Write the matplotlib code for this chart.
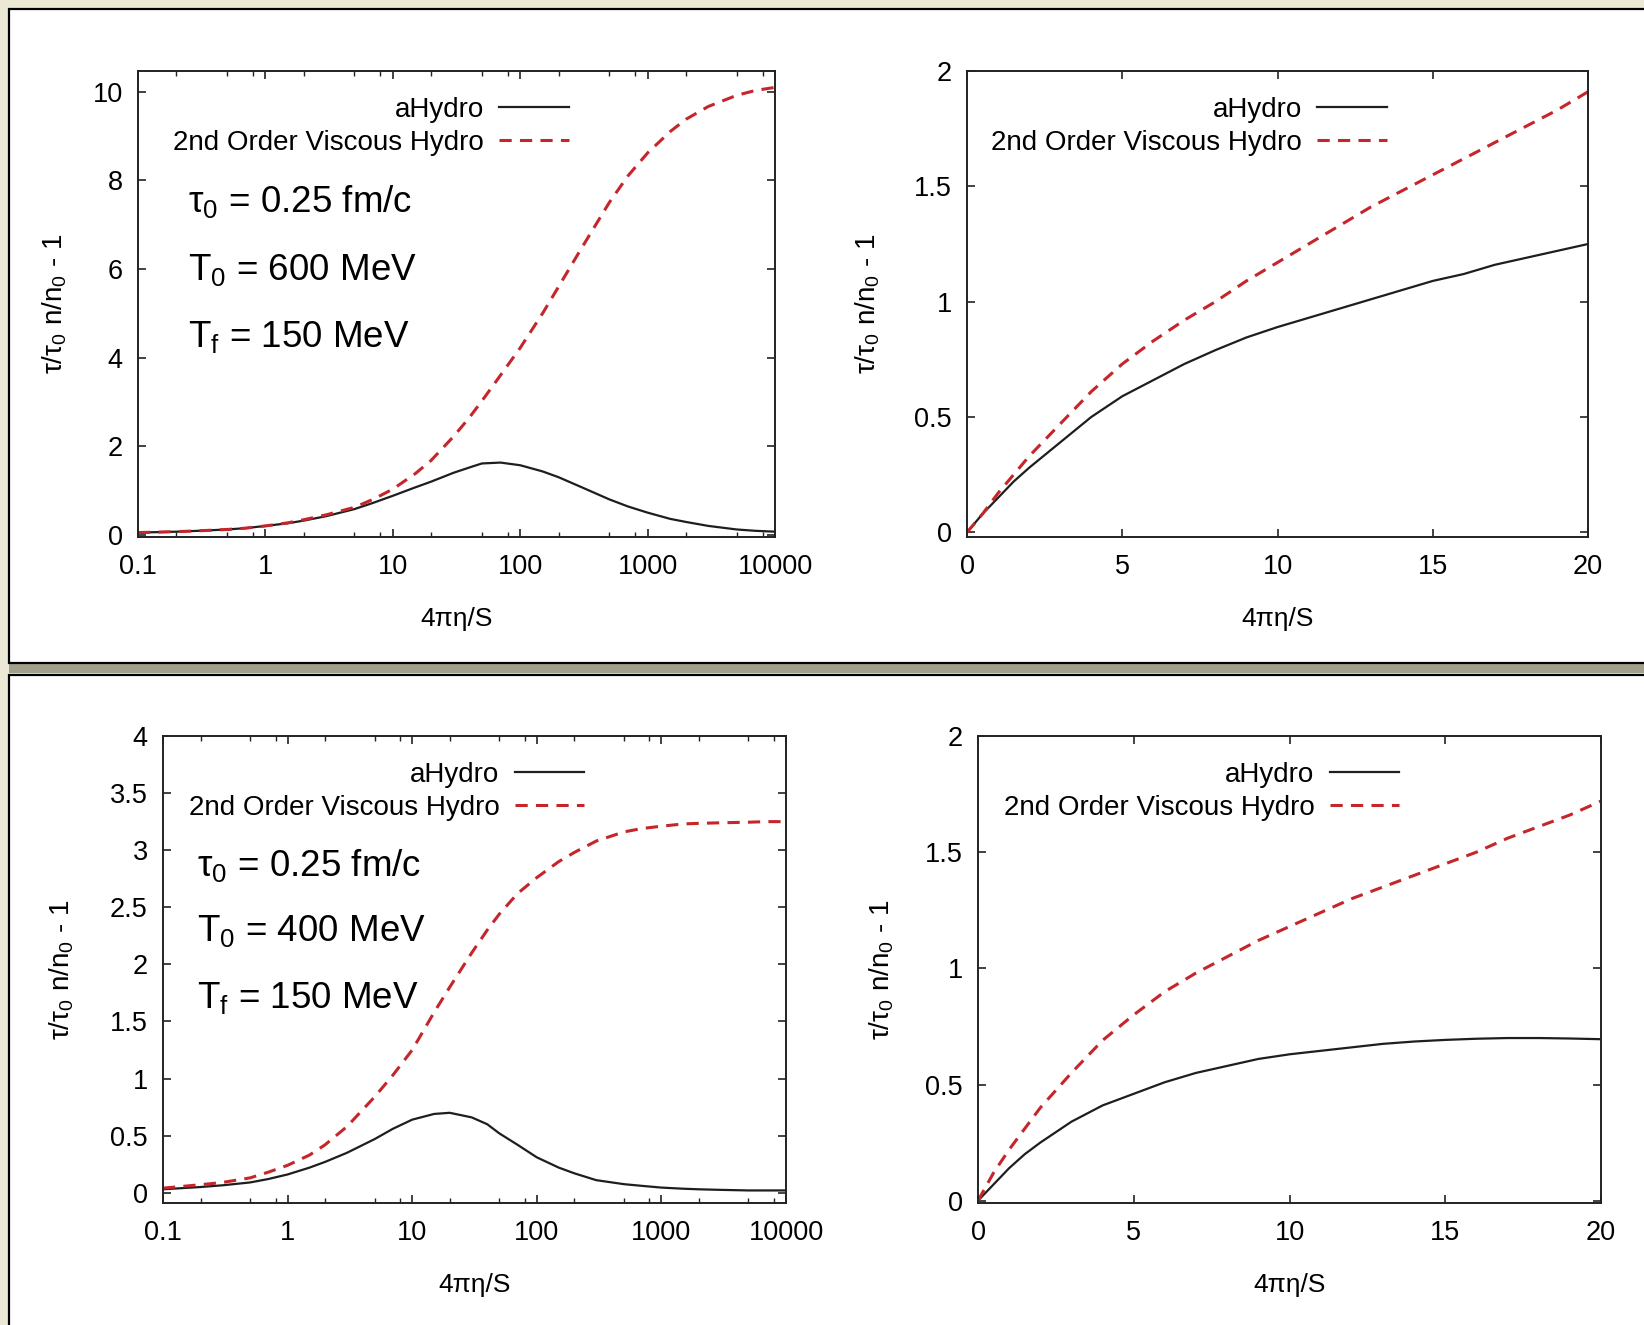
"""
Four-panel comparison of aHydro and 2nd order viscous hydro:
tau/tau0 n/n0 - 1 against 4 pi eta / S, for T0 = 600 MeV (top)
and T0 = 400 MeV (bottom), log and linear x axes.
"""

import matplotlib
matplotlib.use("Agg")
import matplotlib.pyplot as plt
from matplotlib.patches import Rectangle
from matplotlib.ticker import FixedLocator, FormatStrFormatter


# ============================================================
# DATA
# ============================================================

# log panels, x = 4 pi eta / S
X_LOG = [0.1, 0.2, 0.3, 0.5, 0.7, 1, 1.5, 2, 3, 5, 7, 10, 15, 20, 30, 40, 50, 70, 100,
         150, 200, 300, 500, 700, 1000, 1500, 2000, 3000, 5000, 7000, 10000]

TL_AHYDRO = [0.05, 0.07, 0.09, 0.12, 0.15, 0.2, 0.26, 0.32, 0.42, 0.58, 0.72, 0.88, 1.07,
             1.2, 1.4, 1.52, 1.61, 1.63, 1.57, 1.43, 1.3, 1.08, 0.8, 0.64, 0.5, 0.36,
             0.29, 0.2, 0.12, 0.09, 0.07]
TL_VISC = [0.05, 0.07, 0.09, 0.12, 0.15, 0.2, 0.27, 0.34, 0.45, 0.62, 0.8, 1.03, 1.38,
           1.68, 2.22, 2.65, 3.02, 3.6, 4.22, 5.0, 5.6, 6.45, 7.5, 8.1, 8.62, 9.1,
           9.38, 9.67, 9.92, 10.03, 10.1]

BL_AHYDRO = [0.03, 0.05, 0.065, 0.09, 0.12, 0.16, 0.22, 0.27, 0.35, 0.47, 0.56, 0.64, 0.69,
             0.7, 0.66, 0.6, 0.52, 0.42, 0.31, 0.22, 0.17, 0.11, 0.075, 0.06, 0.045,
             0.035, 0.03, 0.025, 0.02, 0.02, 0.02]
BL_VISC = [0.04, 0.07, 0.09, 0.13, 0.18, 0.24, 0.33, 0.42, 0.58, 0.84, 1.03, 1.25, 1.58,
           1.8, 2.1, 2.3, 2.44, 2.62, 2.76, 2.9, 2.98, 3.08, 3.16, 3.19, 3.21, 3.23,
           3.235, 3.24, 3.245, 3.25, 3.25]

# linear panels
X_LIN = [0, 0.25, 0.5, 1, 1.5, 2, 3, 4, 5, 6, 7, 8, 9, 10, 11, 12, 13, 14, 15, 16,
         17, 18, 19, 20]

TR_AHYDRO = [0, 0.04, 0.08, 0.15, 0.22, 0.28, 0.39, 0.5, 0.59, 0.66, 0.73, 0.79, 0.845,
             0.89, 0.93, 0.97, 1.01, 1.05, 1.09, 1.12, 1.16, 1.19, 1.22, 1.25]
TR_VISC = [0, 0.04, 0.08, 0.17, 0.25, 0.33, 0.47, 0.61, 0.73, 0.83, 0.92, 1.0, 1.09,
           1.17, 1.25, 1.33, 1.41, 1.48, 1.55, 1.62, 1.69, 1.76, 1.83, 1.91]

BR_AHYDRO = [0, 0.035, 0.07, 0.14, 0.2, 0.25, 0.34, 0.41, 0.46, 0.51, 0.55, 0.58, 0.61,
             0.63, 0.645, 0.66, 0.675, 0.685, 0.692, 0.697, 0.7, 0.7, 0.698, 0.695]
BR_VISC = [0, 0.06, 0.12, 0.22, 0.31, 0.4, 0.55, 0.69, 0.8, 0.9, 0.98, 1.05, 1.12,
           1.18, 1.24, 1.3, 1.35, 1.4, 1.45, 1.5, 1.56, 1.61, 1.66, 1.72]

LOG_TICKS = [0.1, 1, 10, 100, 1000, 10000]
LIN_XTICKS = [0, 5, 10, 15, 20]

TOP_PARAMS = ["τ$_0$ = 0.25 fm/c", "T$_0$ = 600 MeV", "T$_\\mathrm{f}$ = 150 MeV"]
BOT_PARAMS = ["τ$_0$ = 0.25 fm/c", "T$_0$ = 400 MeV", "T$_\\mathrm{f}$ = 150 MeV"]

LABELS = ["aHydro", "2nd Order Viscous Hydro"]
XLABEL = "4πη/S"
YLABEL = "τ/τ$_0$ n/n$_0$ - 1"


# ============================================================
# STYLE
# ============================================================

W, H = 1644, 1325
BG = "#ece8d6"
RED = "#c4262b"
BLACK = "#1e1e1e"

plt.rcParams["font.family"] = ["Liberation Sans", "DejaVu Sans"]
plt.rcParams["mathtext.fontset"] = "custom"
plt.rcParams["mathtext.rm"] = "Liberation Sans"
plt.rcParams["mathtext.it"] = "Liberation Sans:italic"


def px_axes(fig, left, top, right, bottom):
    return fig.add_axes([left / W, 1 - bottom / H, (right - left) / W, (bottom - top) / H])


def style_axes(ax, logx):
    for s in ax.spines.values():
        s.set_linewidth(1.4)
        s.set_color("#222222")
    ax.tick_params(which="both", direction="in", top=True, right=True,
                   labelsize=19.5, pad=11, colors="#222222", labelcolor="black")
    ax.tick_params(which="major", length=6, width=1.2)
    ax.tick_params(which="minor", length=3.5, width=1.0)
    ax.tick_params(axis="x", pad=12)
    if logx:
        ax.set_xscale("log")
        ax.set_xlim(0.1, 10000)
        ax.xaxis.set_major_locator(FixedLocator(LOG_TICKS))
        minors = [m * 10.0 ** e for e in range(-1, 4) for m in (2, 5, 8)]
        ax.xaxis.set_minor_locator(FixedLocator(minors))
    else:
        ax.set_xlim(0, 20)
        ax.xaxis.set_major_locator(FixedLocator(LIN_XTICKS))
        ax.xaxis.set_minor_locator(FixedLocator([]))
    ax.xaxis.set_major_formatter(FormatStrFormatter("%g"))
    ax.yaxis.set_major_formatter(FormatStrFormatter("%g"))


def draw_panel(ax, x, y_a, y_v, logx, ylim, yticks, ylab_off):
    style_axes(ax, logx)
    ax.plot(x, y_a, color=BLACK, linewidth=1.6, label=LABELS[0])
    ax.plot(x, y_v, color=RED, linewidth=2.2, dashes=(4, 2.7), label=LABELS[1])
    ax.set_ylim(*ylim)
    ax.set_yticks(yticks)

    ax.legend(loc="upper right", bbox_to_anchor=(0.676, 0.945), frameon=False,
              markerfirst=False, fontsize=20, handlelength=2.5, handletextpad=0.55,
              labelspacing=0.27, borderpad=0, borderaxespad=0)

    ax.set_xlabel(XLABEL, fontsize=19)
    ax.set_ylabel(YLABEL, fontsize=20)
    ax.xaxis.set_label_coords(0.5, -0.15)
    ax.yaxis.set_label_coords(ylab_off, 0.5)


def add_params(ax, lines, x0, ys):
    for txt, yy in zip(lines, ys):
        ax.text(x0, yy, txt, transform=ax.transAxes, fontsize=26.5,
                ha="left", va="center")


# ============================================================
# FIGURE
# ============================================================

def main():
    fig = plt.figure(figsize=(W / 100, H / 100), dpi=100)
    fig.patch.set_facecolor(BG)

    # two white "slides" with a shadow between them (behind the axes)
    fig.patches.append(Rectangle((9 / W, 1 - 673 / H), 1.1, 10 / H,
                                 transform=fig.transFigure, facecolor="#a19e8c",
                                 edgecolor="none", zorder=-3))
    fig.patches.append(Rectangle((9 / W, 1 - 663 / H), 1.1, (663 - 9) / H,
                                 transform=fig.transFigure, facecolor="white",
                                 edgecolor="black", linewidth=1.6, zorder=-2))
    fig.patches.append(Rectangle((9 / W, -0.05), 1.1, (H - 675) / H + 0.05,
                                 transform=fig.transFigure, facecolor="white",
                                 edgecolor="black", linewidth=1.6, zorder=-2))

    ax_tl = px_axes(fig, 138, 71, 775, 537)
    ax_tr = px_axes(fig, 967, 71, 1588, 537)
    ax_bl = px_axes(fig, 163, 736, 786, 1203)
    ax_br = px_axes(fig, 978, 736, 1601, 1203)

    draw_panel(ax_tl, X_LOG, TL_AHYDRO, TL_VISC, True, (-0.05, 10.47),
               [0, 2, 4, 6, 8, 10], -68.5 / 637)
    draw_panel(ax_tr, X_LIN, TR_AHYDRO, TR_VISC, False, (-0.02, 2.0),
               [0, 0.5, 1, 1.5, 2], -85 / 621)
    draw_panel(ax_bl, X_LOG, BL_AHYDRO, BL_VISC, True, (-0.09, 4.0),
               [0, 0.5, 1, 1.5, 2, 2.5, 3, 3.5, 4], -87 / 623)
    draw_panel(ax_br, X_LIN, BR_AHYDRO, BR_VISC, False, (-0.01, 2.0),
               [0, 0.5, 1, 1.5, 2], -82 / 623)

    add_params(ax_tl, TOP_PARAMS, 0.078, [0.719, 0.573, 0.429])
    add_params(ax_bl, BOT_PARAMS, 0.055, [0.722, 0.582, 0.439])

    fig.savefig("out.png", dpi=100, facecolor=fig.get_facecolor())


if __name__ == "__main__":
    main()
